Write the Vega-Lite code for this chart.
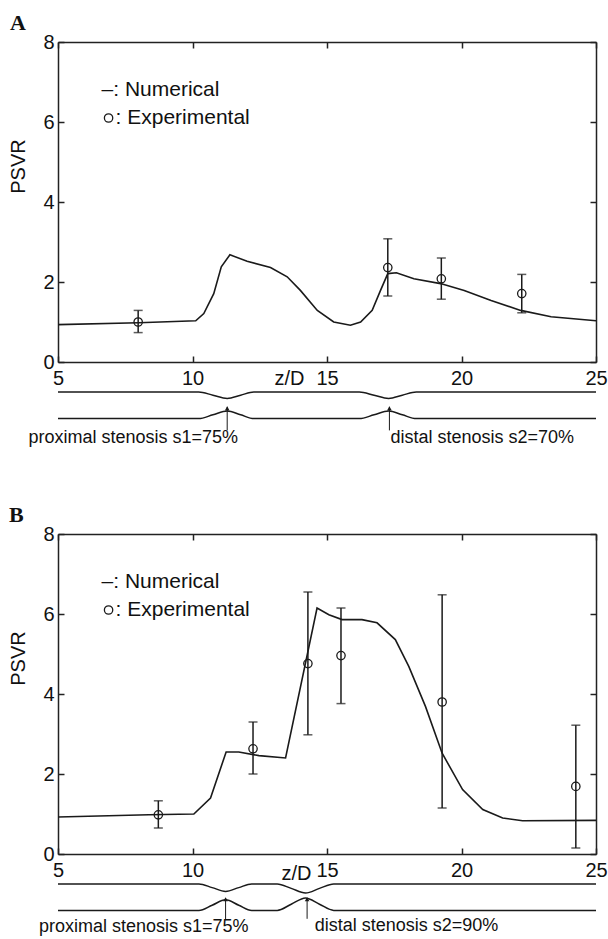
{
  "$schema": "https://vega.github.io/schema/vega-lite/v6.json",
  "background": "white",
  "padding": {"left": 8, "top": 12, "right": 0, "bottom": 0},
  "spacing": 57,
  "config": {"view": {"stroke": null}, "font": "Liberation Sans"},
  "datasets": {
    "numA": [
      {"z": 5, "v": 0.935}, {"z": 8, "v": 0.98}, {"z": 10.12, "v": 1.03}, {"z": 10.42, "v": 1.21},
      {"z": 10.79, "v": 1.71}, {"z": 11.07, "v": 2.38}, {"z": 11.39, "v": 2.68}, {"z": 12.03, "v": 2.52},
      {"z": 12.9, "v": 2.36}, {"z": 13.52, "v": 2.13}, {"z": 14.01, "v": 1.79}, {"z": 14.64, "v": 1.29},
      {"z": 15.25, "v": 1.0}, {"z": 15.87, "v": 0.92}, {"z": 16.25, "v": 1.0}, {"z": 16.68, "v": 1.29},
      {"z": 16.99, "v": 1.79}, {"z": 17.26, "v": 2.21}, {"z": 17.58, "v": 2.23}, {"z": 18.23, "v": 2.08},
      {"z": 19.22, "v": 1.96}, {"z": 20.1, "v": 1.79}, {"z": 21.1, "v": 1.54}, {"z": 22.2, "v": 1.29},
      {"z": 23.33, "v": 1.13}, {"z": 25, "v": 1.03}
    ],
    "expA": [
      {"z": 7.98, "v": 1.0, "lo": 0.735, "hi": 1.29},
      {"z": 17.26, "v": 2.36, "lo": 1.65, "hi": 3.08},
      {"z": 19.25, "v": 2.08, "lo": 1.57, "hi": 2.6},
      {"z": 22.24, "v": 1.71, "lo": 1.23, "hi": 2.19}
    ],
    "wallsA": [
      {"z": 5, "r": -0.75, "w": "u"}, {"z": 10.23, "r": -0.75, "w": "u"}, {"z": 10.76, "r": -0.83, "w": "u"}, {"z": 11.29, "r": -0.91, "w": "u"}, {"z": 11.79, "r": -0.83, "w": "u"}, {"z": 12.28, "r": -0.75, "w": "u"}, {"z": 16.2, "r": -0.75, "w": "u"}, {"z": 16.75, "r": -0.83, "w": "u"}, {"z": 17.29, "r": -0.91, "w": "u"}, {"z": 17.8, "r": -0.83, "w": "u"}, {"z": 18.32, "r": -0.75, "w": "u"}, {"z": 25, "r": -0.75, "w": "u"},
      {"z": 5, "r": -1.415, "w": "l"}, {"z": 10.23, "r": -1.415, "w": "l"}, {"z": 10.76, "r": -1.32, "w": "l"}, {"z": 11.29, "r": -1.225, "w": "l"}, {"z": 11.79, "r": -1.32, "w": "l"}, {"z": 12.28, "r": -1.415, "w": "l"}, {"z": 16.2, "r": -1.415, "w": "l"}, {"z": 16.75, "r": -1.32, "w": "l"}, {"z": 17.29, "r": -1.225, "w": "l"}, {"z": 17.8, "r": -1.32, "w": "l"}, {"z": 18.32, "r": -1.415, "w": "l"}, {"z": 25, "r": -1.415, "w": "l"}
    ],
    "arrowsA": [
      {"z": 11.29, "y1": -1.71, "y2": -1.12, "h": -1.16},
      {"z": 17.32, "y1": -1.71, "y2": -1.12, "h": -1.16}
    ],
    "notesA": [
      {"z": 3.9, "y": -1.89, "t": "proximal stenosis s1=75%"},
      {"z": 17.36, "y": -1.89, "t": "distal stenosis s2=70%"}
    ],
    "numB": [
      {"z": 5, "v": 0.925}, {"z": 8.38, "v": 0.98}, {"z": 10.05, "v": 1.0}, {"z": 10.67, "v": 1.4},
      {"z": 11.25, "v": 2.55}, {"z": 11.72, "v": 2.55}, {"z": 12.47, "v": 2.46}, {"z": 13.46, "v": 2.4},
      {"z": 14.63, "v": 6.15}, {"z": 15.07, "v": 5.98}, {"z": 15.56, "v": 5.86}, {"z": 16.3, "v": 5.86},
      {"z": 16.86, "v": 5.78}, {"z": 17.54, "v": 5.36}, {"z": 18.04, "v": 4.69}, {"z": 18.66, "v": 3.69},
      {"z": 19.28, "v": 2.52}, {"z": 20.04, "v": 1.61}, {"z": 20.79, "v": 1.11}, {"z": 21.53, "v": 0.9},
      {"z": 22.27, "v": 0.83}, {"z": 25, "v": 0.84}
    ],
    "expB": [
      {"z": 8.73, "v": 0.98, "lo": 0.65, "hi": 1.33},
      {"z": 12.25, "v": 2.63, "lo": 2.0, "hi": 3.3},
      {"z": 14.29, "v": 4.76, "lo": 2.98, "hi": 6.55},
      {"z": 15.52, "v": 4.96, "lo": 3.76, "hi": 6.15},
      {"z": 19.28, "v": 3.8, "lo": 1.15, "hi": 6.48},
      {"z": 24.25, "v": 1.69, "lo": 0.15, "hi": 3.22}
    ],
    "wallsB": [
      {"z": 5, "r": -0.75, "w": "u"}, {"z": 10.24, "r": -0.75, "w": "u"}, {"z": 10.73, "r": -0.84, "w": "u"}, {"z": 11.23, "r": -0.935, "w": "u"}, {"z": 11.72, "r": -0.84, "w": "u"}, {"z": 12.2, "r": -0.75, "w": "u"}, {"z": 13.15, "r": -0.75, "w": "u"}, {"z": 13.67, "r": -0.86, "w": "u"}, {"z": 14.2, "r": -0.975, "w": "u"}, {"z": 14.72, "r": -0.86, "w": "u"}, {"z": 15.25, "r": -0.75, "w": "u"}, {"z": 25, "r": -0.75, "w": "u"},
      {"z": 5, "r": -1.41, "w": "l"}, {"z": 10.24, "r": -1.41, "w": "l"}, {"z": 10.73, "r": -1.28, "w": "l"}, {"z": 11.23, "r": -1.145, "w": "l"}, {"z": 11.72, "r": -1.28, "w": "l"}, {"z": 12.2, "r": -1.41, "w": "l"}, {"z": 13.15, "r": -1.41, "w": "l"}, {"z": 13.67, "r": -1.255, "w": "l"}, {"z": 14.2, "r": -1.1, "w": "l"}, {"z": 14.72, "r": -1.255, "w": "l"}, {"z": 15.25, "r": -1.41, "w": "l"}, {"z": 25, "r": -1.41, "w": "l"}
    ],
    "arrowsB": [
      {"z": 11.23, "y1": -1.64, "y2": -1.1, "h": -1.13},
      {"z": 14.26, "y1": -1.62, "y2": -1.1, "h": -1.13}
    ],
    "notesB": [
      {"z": 4.29, "y": -1.82, "t": "proximal stenosis s1=75%"},
      {"z": 14.54, "y": -1.81, "t": "distal stenosis s2=90%"}
    ],
    "legendText": [
      {"z": 6.62, "y": 6.79, "t": "–: Numerical"},
      {"z": 7.14, "y": 6.1, "t": ": Experimental"}
    ],
    "legendMark": [
      {"z": 6.88, "y": 6.1}
    ]
  },
  "vconcat": [
    {
      "width": 538,
      "height": 320,
      "title": {"text": "A", "anchor": "start", "frame": "group", "font": "Liberation Serif", "fontSize": 22, "fontWeight": "bold", "color": "#111", "dx": -48, "offset": -3},
      "resolve": {"axis": {"x": "independent", "y": "independent"}},
      "layer": [
        {
          "data": {"name": "numA"},
          "mark": {"type": "line", "color": "#1a1a1a", "strokeWidth": 1.6},
          "encoding": {
            "x": {"field": "z", "type": "quantitative", "scale": {"domain": [5, 25], "nice": false, "zero": false},
              "axis": {"orient": "bottom", "values": [5, 10, 15, 20, 25], "tickSize": -6, "labelPadding": 12, "labelFontSize": 20, "labelFont": "Liberation Sans", "labelColor": "#111", "domainColor": "#222", "domainWidth": 1.5, "tickColor": "#222", "tickWidth": 1.5, "grid": false, "labelFlush": false, "labelOverlap": false, "title": "z/D", "titleFont": "Liberation Sans", "titleFontSize": 20, "titleFontWeight": "normal", "titleColor": "#111", "titleX": 231, "titleY": 16, "titleBaseline": "middle", "titleAlign": "center"}},
            "y": {"field": "v", "type": "quantitative", "scale": {"domain": [0, 8], "nice": false, "zero": false},
              "axis": {"orient": "left", "values": [0, 2, 4, 6, 8], "tickSize": -6, "labelPadding": 10, "labelFontSize": 20, "labelFont": "Liberation Sans", "labelColor": "#111", "domainColor": "#222", "domainWidth": 1.5, "tickColor": "#222", "tickWidth": 1.5, "grid": false, "labelFlush": false, "labelOverlap": false, "title": "PSVR", "titleFont": "Liberation Sans", "titleFontSize": 20, "titleFontWeight": "normal", "titleColor": "#111", "titleX": -40, "titleY": 124, "titleAngle": 270, "titleBaseline": "middle", "titleAlign": "center"}}
          }
        },
        {
          "data": {"name": "numA"},
          "mark": {"type": "line", "strokeOpacity": 0},
          "encoding": {
            "x": {"field": "z", "type": "quantitative", "scale": {"domain": [5, 25], "nice": false, "zero": false},
              "axis": {"orient": "top", "values": [5, 10, 15, 20, 25], "tickSize": -6, "labels": false, "domainColor": "#222", "domainWidth": 1.5, "tickColor": "#222", "tickWidth": 1.5, "grid": false, "title": null}},
            "y": {"field": "v", "type": "quantitative", "scale": {"domain": [0, 8], "nice": false, "zero": false},
              "axis": {"orient": "right", "values": [0, 2, 4, 6, 8], "tickSize": -6, "labels": false, "domainColor": "#222", "domainWidth": 1.5, "tickColor": "#222", "tickWidth": 1.5, "grid": false, "title": null}}
          }
        },
        {
          "data": {"name": "expA"},
          "mark": {"type": "rule", "color": "#1a1a1a", "strokeWidth": 1.5},
          "encoding": {
            "x": {"field": "z", "type": "quantitative", "scale": {"domain": [5, 25], "nice": false, "zero": false}, "axis": null},
            "y": {"field": "lo", "type": "quantitative", "scale": {"domain": [0, 8], "nice": false, "zero": false}, "axis": null},
            "y2": {"field": "hi"}
          }
        },
        {
          "data": {"name": "expA"},
          "mark": {"type": "tick", "orient": "horizontal", "color": "#1a1a1a", "size": 9, "thickness": 1.5},
          "encoding": {
            "x": {"field": "z", "type": "quantitative", "scale": {"domain": [5, 25], "nice": false, "zero": false}, "axis": null},
            "y": {"field": "lo", "type": "quantitative", "scale": {"domain": [0, 8], "nice": false, "zero": false}, "axis": null}
          }
        },
        {
          "data": {"name": "expA"},
          "mark": {"type": "tick", "orient": "horizontal", "color": "#1a1a1a", "size": 9, "thickness": 1.5},
          "encoding": {
            "x": {"field": "z", "type": "quantitative", "scale": {"domain": [5, 25], "nice": false, "zero": false}, "axis": null},
            "y": {"field": "hi", "type": "quantitative", "scale": {"domain": [0, 8], "nice": false, "zero": false}, "axis": null}
          }
        },
        {
          "data": {"name": "expA"},
          "mark": {"type": "point", "shape": "circle", "filled": false, "size": 70, "strokeWidth": 1.3, "color": "#1a1a1a", "opacity": 1},
          "encoding": {
            "x": {"field": "z", "type": "quantitative", "scale": {"domain": [5, 25], "nice": false, "zero": false}, "axis": null},
            "y": {"field": "v", "type": "quantitative", "scale": {"domain": [0, 8], "nice": false, "zero": false}, "axis": null}
          }
        },
        {
          "data": {"name": "wallsA"},
          "mark": {"type": "line", "color": "#1a1a1a", "strokeWidth": 1.5, "interpolate": "monotone"},
          "encoding": {
            "x": {"field": "z", "type": "quantitative", "scale": {"domain": [5, 25], "nice": false, "zero": false}, "axis": null},
            "y": {"field": "r", "type": "quantitative", "scale": {"domain": [0, 8], "nice": false, "zero": false}, "axis": null},
            "detail": {"field": "w"}
          }
        },
        {
          "data": {"name": "arrowsA"},
          "mark": {"type": "rule", "color": "#1a1a1a", "strokeWidth": 1},
          "encoding": {
            "x": {"field": "z", "type": "quantitative", "scale": {"domain": [5, 25], "nice": false, "zero": false}, "axis": null},
            "y": {"field": "y1", "type": "quantitative", "scale": {"domain": [0, 8], "nice": false, "zero": false}, "axis": null},
            "y2": {"field": "y2"}
          }
        },
        {
          "data": {"name": "arrowsA"},
          "mark": {"type": "point", "shape": "triangle-up", "filled": true, "size": 22, "color": "#1a1a1a", "opacity": 1},
          "encoding": {
            "x": {"field": "z", "type": "quantitative", "scale": {"domain": [5, 25], "nice": false, "zero": false}, "axis": null},
            "y": {"field": "h", "type": "quantitative", "scale": {"domain": [0, 8], "nice": false, "zero": false}, "axis": null}
          }
        },
        {
          "data": {"name": "notesA"},
          "mark": {"type": "text", "align": "left", "baseline": "middle", "font": "Liberation Sans", "fontSize": 18, "color": "#111"},
          "encoding": {
            "x": {"field": "z", "type": "quantitative", "scale": {"domain": [5, 25], "nice": false, "zero": false}, "axis": null},
            "y": {"field": "y", "type": "quantitative", "scale": {"domain": [0, 8], "nice": false, "zero": false}, "axis": null},
            "text": {"field": "t"}
          }
        },
        {
          "data": {"name": "legendText"},
          "mark": {"type": "text", "align": "left", "baseline": "middle", "font": "Liberation Sans", "fontSize": 21, "color": "#111"},
          "encoding": {
            "x": {"field": "z", "type": "quantitative", "scale": {"domain": [5, 25], "nice": false, "zero": false}, "axis": null},
            "y": {"field": "y", "type": "quantitative", "scale": {"domain": [0, 8], "nice": false, "zero": false}, "axis": null},
            "text": {"field": "t"}
          }
        },
        {
          "data": {"name": "legendMark"},
          "mark": {"type": "point", "shape": "circle", "filled": false, "size": 70, "strokeWidth": 1.3, "color": "#1a1a1a", "opacity": 1},
          "encoding": {
            "x": {"field": "z", "type": "quantitative", "scale": {"domain": [5, 25], "nice": false, "zero": false}, "axis": null},
            "y": {"field": "y", "type": "quantitative", "scale": {"domain": [0, 8], "nice": false, "zero": false}, "axis": null}
          }
        }
      ]
    },
    {
      "width": 538,
      "height": 320,
      "title": {"text": "B", "anchor": "start", "frame": "group", "font": "Liberation Serif", "fontSize": 22, "fontWeight": "bold", "color": "#111", "dx": -49, "offset": -3},
      "resolve": {"axis": {"x": "independent", "y": "independent"}},
      "layer": [
        {
          "data": {"name": "numB"},
          "mark": {"type": "line", "color": "#1a1a1a", "strokeWidth": 1.6},
          "encoding": {
            "x": {"field": "z", "type": "quantitative", "scale": {"domain": [5, 25], "nice": false, "zero": false},
              "axis": {"orient": "bottom", "values": [5, 10, 15, 20, 25], "tickSize": -6, "labelPadding": 12, "labelFontSize": 20, "labelFont": "Liberation Sans", "labelColor": "#111", "domainColor": "#222", "domainWidth": 1.5, "tickColor": "#222", "tickWidth": 1.5, "grid": false, "labelFlush": false, "labelOverlap": false, "title": "z/D", "titleFont": "Liberation Sans", "titleFontSize": 20, "titleFontWeight": "normal", "titleColor": "#111", "titleX": 238, "titleY": 19, "titleBaseline": "middle", "titleAlign": "center"}},
            "y": {"field": "v", "type": "quantitative", "scale": {"domain": [0, 8], "nice": false, "zero": false},
              "axis": {"orient": "left", "values": [0, 2, 4, 6, 8], "tickSize": -6, "labelPadding": 10, "labelFontSize": 20, "labelFont": "Liberation Sans", "labelColor": "#111", "domainColor": "#222", "domainWidth": 1.5, "tickColor": "#222", "tickWidth": 1.5, "grid": false, "labelFlush": false, "labelOverlap": false, "title": "PSVR", "titleFont": "Liberation Sans", "titleFontSize": 20, "titleFontWeight": "normal", "titleColor": "#111", "titleX": -40, "titleY": 124, "titleAngle": 270, "titleBaseline": "middle", "titleAlign": "center"}}
          }
        },
        {
          "data": {"name": "numB"},
          "mark": {"type": "line", "strokeOpacity": 0},
          "encoding": {
            "x": {"field": "z", "type": "quantitative", "scale": {"domain": [5, 25], "nice": false, "zero": false},
              "axis": {"orient": "top", "values": [5, 10, 15, 20, 25], "tickSize": -6, "labels": false, "domainColor": "#222", "domainWidth": 1.5, "tickColor": "#222", "tickWidth": 1.5, "grid": false, "title": null}},
            "y": {"field": "v", "type": "quantitative", "scale": {"domain": [0, 8], "nice": false, "zero": false},
              "axis": {"orient": "right", "values": [0, 2, 4, 6, 8], "tickSize": -6, "labels": false, "domainColor": "#222", "domainWidth": 1.5, "tickColor": "#222", "tickWidth": 1.5, "grid": false, "title": null}}
          }
        },
        {
          "data": {"name": "expB"},
          "mark": {"type": "rule", "color": "#1a1a1a", "strokeWidth": 1.5},
          "encoding": {
            "x": {"field": "z", "type": "quantitative", "scale": {"domain": [5, 25], "nice": false, "zero": false}, "axis": null},
            "y": {"field": "lo", "type": "quantitative", "scale": {"domain": [0, 8], "nice": false, "zero": false}, "axis": null},
            "y2": {"field": "hi"}
          }
        },
        {
          "data": {"name": "expB"},
          "mark": {"type": "tick", "orient": "horizontal", "color": "#1a1a1a", "size": 9, "thickness": 1.5},
          "encoding": {
            "x": {"field": "z", "type": "quantitative", "scale": {"domain": [5, 25], "nice": false, "zero": false}, "axis": null},
            "y": {"field": "lo", "type": "quantitative", "scale": {"domain": [0, 8], "nice": false, "zero": false}, "axis": null}
          }
        },
        {
          "data": {"name": "expB"},
          "mark": {"type": "tick", "orient": "horizontal", "color": "#1a1a1a", "size": 9, "thickness": 1.5},
          "encoding": {
            "x": {"field": "z", "type": "quantitative", "scale": {"domain": [5, 25], "nice": false, "zero": false}, "axis": null},
            "y": {"field": "hi", "type": "quantitative", "scale": {"domain": [0, 8], "nice": false, "zero": false}, "axis": null}
          }
        },
        {
          "data": {"name": "expB"},
          "mark": {"type": "point", "shape": "circle", "filled": false, "size": 70, "strokeWidth": 1.3, "color": "#1a1a1a", "opacity": 1},
          "encoding": {
            "x": {"field": "z", "type": "quantitative", "scale": {"domain": [5, 25], "nice": false, "zero": false}, "axis": null},
            "y": {"field": "v", "type": "quantitative", "scale": {"domain": [0, 8], "nice": false, "zero": false}, "axis": null}
          }
        },
        {
          "data": {"name": "wallsB"},
          "mark": {"type": "line", "color": "#1a1a1a", "strokeWidth": 1.5, "interpolate": "monotone"},
          "encoding": {
            "x": {"field": "z", "type": "quantitative", "scale": {"domain": [5, 25], "nice": false, "zero": false}, "axis": null},
            "y": {"field": "r", "type": "quantitative", "scale": {"domain": [0, 8], "nice": false, "zero": false}, "axis": null},
            "detail": {"field": "w"}
          }
        },
        {
          "data": {"name": "arrowsB"},
          "mark": {"type": "rule", "color": "#1a1a1a", "strokeWidth": 1},
          "encoding": {
            "x": {"field": "z", "type": "quantitative", "scale": {"domain": [5, 25], "nice": false, "zero": false}, "axis": null},
            "y": {"field": "y1", "type": "quantitative", "scale": {"domain": [0, 8], "nice": false, "zero": false}, "axis": null},
            "y2": {"field": "y2"}
          }
        },
        {
          "data": {"name": "arrowsB"},
          "mark": {"type": "point", "shape": "triangle-up", "filled": true, "size": 22, "color": "#1a1a1a", "opacity": 1},
          "encoding": {
            "x": {"field": "z", "type": "quantitative", "scale": {"domain": [5, 25], "nice": false, "zero": false}, "axis": null},
            "y": {"field": "h", "type": "quantitative", "scale": {"domain": [0, 8], "nice": false, "zero": false}, "axis": null}
          }
        },
        {
          "data": {"name": "notesB"},
          "mark": {"type": "text", "align": "left", "baseline": "middle", "font": "Liberation Sans", "fontSize": 18, "color": "#111"},
          "encoding": {
            "x": {"field": "z", "type": "quantitative", "scale": {"domain": [5, 25], "nice": false, "zero": false}, "axis": null},
            "y": {"field": "y", "type": "quantitative", "scale": {"domain": [0, 8], "nice": false, "zero": false}, "axis": null},
            "text": {"field": "t"}
          }
        },
        {
          "data": {"name": "legendText"},
          "mark": {"type": "text", "align": "left", "baseline": "middle", "font": "Liberation Sans", "fontSize": 21, "color": "#111"},
          "encoding": {
            "x": {"field": "z", "type": "quantitative", "scale": {"domain": [5, 25], "nice": false, "zero": false}, "axis": null},
            "y": {"field": "y", "type": "quantitative", "scale": {"domain": [0, 8], "nice": false, "zero": false}, "axis": null},
            "text": {"field": "t"}
          }
        },
        {
          "data": {"name": "legendMark"},
          "mark": {"type": "point", "shape": "circle", "filled": false, "size": 70, "strokeWidth": 1.3, "color": "#1a1a1a", "opacity": 1},
          "encoding": {
            "x": {"field": "z", "type": "quantitative", "scale": {"domain": [5, 25], "nice": false, "zero": false}, "axis": null},
            "y": {"field": "y", "type": "quantitative", "scale": {"domain": [0, 8], "nice": false, "zero": false}, "axis": null}
          }
        }
      ]
    }
  ]
}
